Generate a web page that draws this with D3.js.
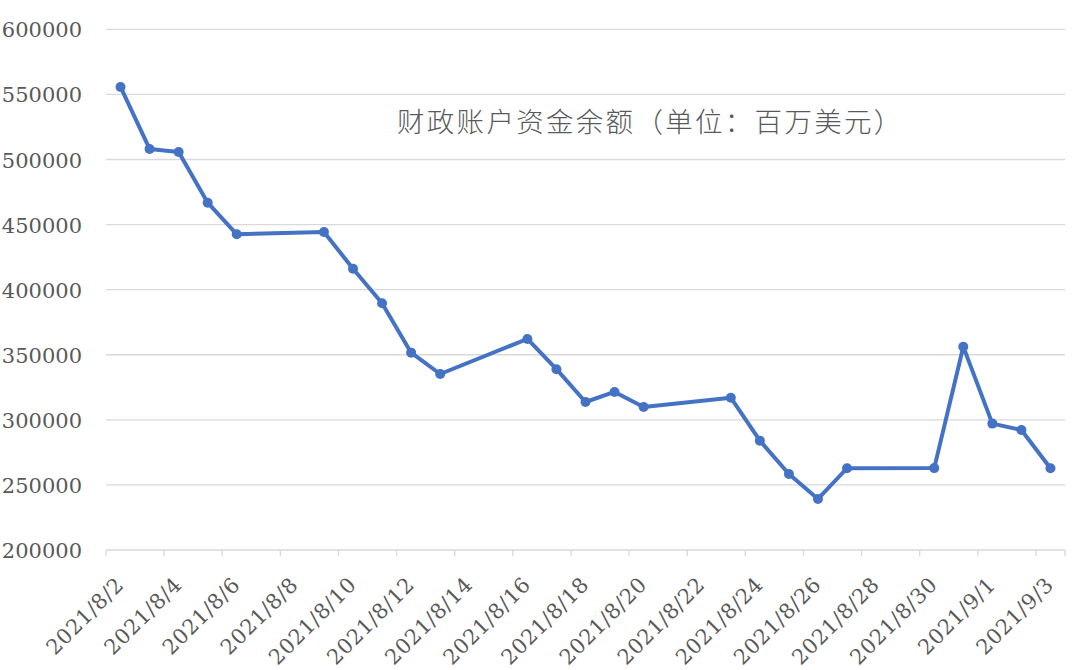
<!DOCTYPE html>
<html>
<head>
<meta charset="utf-8">
<script src="https://cdn.jsdelivr.net/npm/d3@7/dist/d3.min.js"></script>
<style>
  html, body { margin: 0; padding: 0; background: #ffffff; }
  svg { display: block; }
</style>
</head>
<body>
<svg id="chart" width="1080" height="670"></svg>
<script>
const dates = ["2021-08-02","2021-08-03","2021-08-04","2021-08-05","2021-08-06",
  "2021-08-09","2021-08-10","2021-08-11","2021-08-12","2021-08-13",
  "2021-08-16","2021-08-17","2021-08-18","2021-08-19","2021-08-20",
  "2021-08-23","2021-08-24","2021-08-25","2021-08-26","2021-08-27",
  "2021-08-30","2021-08-31","2021-09-01","2021-09-02","2021-09-03"];
const balances = [555700, 508100, 505800, 466800, 442500,
  444300, 416100, 389500, 351600, 335200,
  362100, 338900, 313700, 321400, 309900,
  317000, 284000, 258400, 239200, 262800,
  262900, 356200, 297100, 292200, 262800];
const yTicks = [200000, 250000, 300000, 350000, 400000, 450000, 500000, 550000, 600000];
const xTickDates = ["2021-08-02","2021-08-04","2021-08-06","2021-08-08","2021-08-10",
  "2021-08-12","2021-08-14","2021-08-16","2021-08-18","2021-08-20","2021-08-22",
  "2021-08-24","2021-08-26","2021-08-28","2021-08-30","2021-09-01","2021-09-03"];
const title = "财政账户资金余额（单位：百万美元）";

const parse = d3.timeParse("%Y-%m-%d");
const fmt = d => `${d.getFullYear()}/${d.getMonth()+1}/${d.getDate()}`;
const HALF = 12 * 3600 * 1000;

const svg = d3.select("#chart");
const pLeft = 106, pRight = 1065, pTop = 29.3, pBottom = 550;

const first = parse(dates[0]);
const last = parse(dates[dates.length - 1]);
const x = d3.scaleTime()
  .domain([new Date(+first - HALF), new Date(+last + HALF)])
  .range([pLeft, pRight]);
const y = d3.scaleLinear().domain([200000, 600000]).range([pBottom, pTop]);

// gridlines
svg.append("g")
  .selectAll("line")
  .data(yTicks)
  .join("line")
  .attr("x1", pLeft).attr("x2", pRight)
  .attr("y1", d => y(d)).attr("y2", d => y(d))
  .attr("stroke", "#d9d9d9").attr("stroke-width", 1.3);

// y axis labels
const yAxis = d3.axisLeft(y).tickValues(yTicks).tickSize(0).tickPadding(0)
  .tickFormat(d3.format("d"));
const gy = svg.append("g").attr("transform", `translate(82,0)`).call(yAxis);
gy.select(".domain").remove();
gy.selectAll("text")
  .attr("font-family", "'DejaVu Serif', serif")
  .attr("font-size", "21px")
  .attr("fill", "#595959")
  .attr("dy", "0.36em");

// x axis tick marks at category boundaries
const tickDates = xTickDates.map(parse);
const boundaryTicks = tickDates.map(d => new Date(+d - HALF)).concat([new Date(+last + HALF)]);
svg.append("g")
  .selectAll("line")
  .data(boundaryTicks)
  .join("line")
  .attr("x1", d => x(d)).attr("x2", d => x(d))
  .attr("y1", pBottom).attr("y2", pBottom + 6)
  .attr("stroke", "#d9d9d9").attr("stroke-width", 1.3);

// x axis labels
const xAxis = d3.axisBottom(x).tickValues(tickDates).tickSize(0).tickFormat(fmt);
const gx = svg.append("g").attr("transform", `translate(0,${pBottom})`).call(xAxis);
gx.select(".domain").remove();
gx.selectAll(".tick text")
  .attr("font-family", "'DejaVu Serif', serif")
  .attr("font-size", "21px")
  .attr("letter-spacing", "0.6px")
  .attr("fill", "#595959")
  .attr("text-anchor", "end")
  .attr("x", 0).attr("y", 0).attr("dy", 0)
  .attr("transform", "translate(4,36) rotate(-45)");

// line
const pts = dates.map((d, i) => ({ date: parse(d), v: balances[i] }));
svg.append("path")
  .datum(pts)
  .attr("fill", "none")
  .attr("stroke", "#4472c4")
  .attr("stroke-width", 4)
  .attr("stroke-linejoin", "round")
  .attr("d", d3.line().x(d => x(d.date)).y(d => y(d.v)));

svg.append("g")
  .selectAll("circle")
  .data(pts)
  .join("circle")
  .attr("cx", d => x(d.date)).attr("cy", d => y(d.v))
  .attr("r", 5)
  .attr("fill", "#4472c4");

// title
svg.append("text")
  .attr("x", 397).attr("y", 132)
  .attr("font-family", "'Noto Sans CJK SC', sans-serif")
  .attr("font-size", "27.5px")
  .attr("font-weight", 300)
  .attr("letter-spacing", "2.3px")
  .attr("fill", "#595959")
  .text(title);
</script>
</body>
</html>
